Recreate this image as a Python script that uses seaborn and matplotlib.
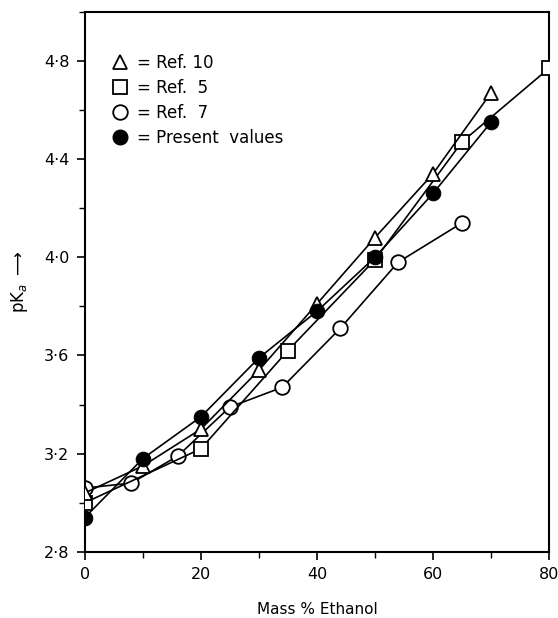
import numpy as np
import pandas as pd
import matplotlib
matplotlib.use("Agg")
import matplotlib.pyplot as plt
from matplotlib.lines import Line2D
from matplotlib.ticker import MultipleLocator, FuncFormatter
import seaborn as sns

# dati
ref10_x = [0, 10, 20, 30, 40, 50, 60, 70]
ref10_y = [3.04, 3.15, 3.30, 3.54, 3.81, 4.08, 4.34, 4.67]

ref5_x = [0, 20, 35, 50, 65, 80]
ref5_y = [3.00, 3.22, 3.62, 3.99, 4.47, 4.77]

ref7_x = [0, 8, 16, 25, 34, 44, 54, 65]
ref7_y = [3.06, 3.08, 3.19, 3.39, 3.47, 3.71, 3.98, 4.14]

present_x = [0, 10, 20, 30, 40, 50, 60, 70]
present_y = [2.94, 3.18, 3.35, 3.59, 3.78, 4.00, 4.26, 4.55]

sns.set_style("ticks")
plt.rcParams['font.family'] = ['DejaVu Sans']
plt.rcParams['text.color'] = 'black'
plt.rcParams['axes.labelcolor'] = 'black'

fig = plt.figure(figsize=(5.58, 6.18), dpi=100)
ax = fig.add_axes([0.152, 0.107, 0.832, 0.874])

ms = 10.5
sns.lineplot(x=ref7_x, y=ref7_y, ax=ax, color='black', lw=1.2, marker='o',
             markersize=ms, markerfacecolor='white', markeredgecolor='black',
             markeredgewidth=1.3, zorder=2)
sns.lineplot(x=ref5_x, y=ref5_y, ax=ax, color='black', lw=1.2, marker='s',
             markersize=ms - 1, markerfacecolor='white', markeredgecolor='black',
             markeredgewidth=1.3, zorder=3)
sns.lineplot(x=ref10_x, y=ref10_y, ax=ax, color='black', lw=1.2, marker='^',
             markersize=ms, markerfacecolor='white', markeredgecolor='black',
             markeredgewidth=1.3, zorder=4)
sns.lineplot(x=present_x, y=present_y, ax=ax, color='black', lw=1.2, marker='o',
             markersize=ms, markerfacecolor='black', markeredgecolor='black',
             zorder=5)

ax.set_xlim(0, 80)
ax.set_ylim(2.8, 5.0)
ax.xaxis.set_major_locator(MultipleLocator(20))
ax.xaxis.set_minor_locator(MultipleLocator(10))
ax.yaxis.set_major_locator(MultipleLocator(0.4))
ax.yaxis.set_minor_locator(MultipleLocator(0.2))
ax.yaxis.set_major_formatter(FuncFormatter(lambda v, p: f"{v:.1f}".replace('.', '·')))

for s in ax.spines.values():
    s.set_linewidth(1.5)
    s.set_color('black')
ax.tick_params(which='major', length=6, width=1.2, labelsize=11.5, colors='black', pad=5)
ax.tick_params(which='minor', length=4, width=1.0, colors='black')
ax.tick_params(axis='y', which='minor', left=True)

ax.set_xlabel("Mass % Ethanol", fontsize=11, labelpad=14)
ax.set_ylabel(r"pK$_a$ $\longrightarrow$", fontsize=12, labelpad=10)

handles = [
    Line2D([], [], ls='none', marker='^', ms=ms, mfc='white', mec='black', mew=1.3),
    Line2D([], [], ls='none', marker='s', ms=ms - 1, mfc='white', mec='black', mew=1.3),
    Line2D([], [], ls='none', marker='o', ms=ms, mfc='white', mec='black', mew=1.3),
    Line2D([], [], ls='none', marker='o', ms=ms, mfc='black', mec='black'),
]
labels = ["= Ref. 10", "= Ref.  5", "= Ref.  7", "= Present  values"]
ax.legend(handles, labels, loc='upper left', bbox_to_anchor=(0.03, 0.95),
          frameon=False, handlelength=0.8, handletextpad=0.6, labelspacing=0.42,
          fontsize=12)

fig.savefig("out.png", dpi=100)
